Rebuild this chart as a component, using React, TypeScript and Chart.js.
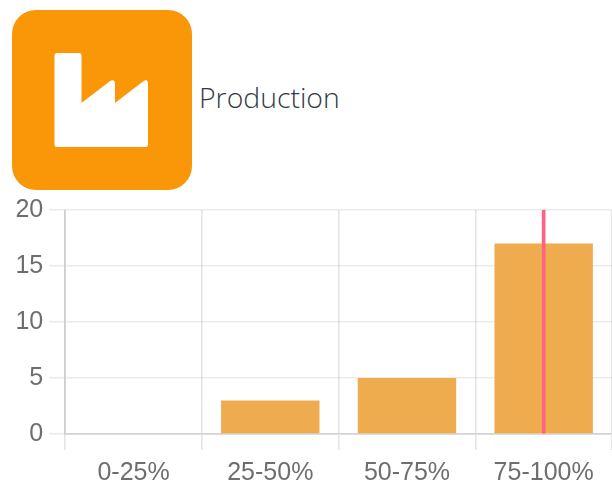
import React, { useEffect, useRef } from "react";
import { Chart, registerables } from "chart.js";

Chart.register(...registerables);

const title = "Production";
const categories = ["0-25%", "25-50%", "50-75%", "75-100%"];
const counts = [0, 3, 5, 17];
const markerRange: ([number, number] | null)[] = [null, null, null, [0, 20]];
const yTicks = { min: 0, max: 20, stepSize: 5 };

export default function App() {
  const ref = useRef<HTMLCanvasElement>(null);
  useEffect(() => {
    const chart = new Chart(ref.current!, {
      type: "bar",
      data: {
        labels: categories,
        datasets: [
          {
            label: "Marker",
            data: markerRange as any,
            backgroundColor: "#ff6384",
            barThickness: 3,
            grouped: false,
            order: 0,
          },
          {
            label: "Count",
            data: counts,
            backgroundColor: "#eeac4e",
            grouped: false,
            order: 1,
          },
        ],
      },
      options: {
        responsive: false,
        animation: false,
        layout: { padding: { top: 10, left: 0, right: 0, bottom: 0 } },
        plugins: { legend: { display: false }, tooltip: { enabled: false }, title: { display: false } },
        scales: {
          x: {
            afterFit: (s: any) => { s.height = 53; },
            grid: { color: "rgba(0,0,0,0.1)", lineWidth: 1.6, tickLength: 16 },
            border: { color: "rgba(0,0,0,0.1)", width: 2 },
            ticks: { color: "#6e6e6e", font: { family: "Liberation Sans", size: 25 }, padding: 8, maxRotation: 0, autoSkip: false },
          },
          y: {
            min: yTicks.min,
            max: yTicks.max,
            afterFit: (s: any) => { s.width = 65.25; },
            grid: { color: "rgba(0,0,0,0.08)", lineWidth: 1.6, tickLength: 16 },
            border: { color: "rgba(0,0,0,0.1)", width: 2 },
            ticks: { stepSize: yTicks.stepSize, color: "#6e6e6e", font: { family: "Liberation Sans", size: 25 }, padding: 6 },
          },
        },
      },
    });
    return () => chart.destroy();
  }, []);

  return (
    <div style={{ position: "fixed", left: 0, top: 0, width: 612, height: 487, overflow: "hidden", background: "#fff", filter: "blur(0.7px)" }}>
      <svg width={612} height={195} style={{ position: "absolute", left: 0, top: 0 }}>
        <rect x={12} y={10} width={180} height={180} rx={24} fill="#fa9709" />
        <path
          d="M57 53 H79 Q81.5 53 81.5 55.5 V103 L109.5 81.5 Q115 78 115 84 V103 L143 81.5 Q148 78 148 84 V144.5 Q148 147 145.5 147 H57 Q54.5 147 54.5 144.5 V55.5 Q54.5 53 57 53 Z"
          fill="#fff"
        />
      </svg>
      <div style={{ position: "absolute", left: 199, top: 78, fontFamily: "'Open Sans'", fontWeight: 300, fontSize: 28.4, lineHeight: "38px", color: "#333a44" }}>
        {title}
      </div>
      <canvas ref={ref} width={612} height={298} style={{ position: "absolute", left: 0, top: 189, display: "block" }} />
    </div>
  );
}
